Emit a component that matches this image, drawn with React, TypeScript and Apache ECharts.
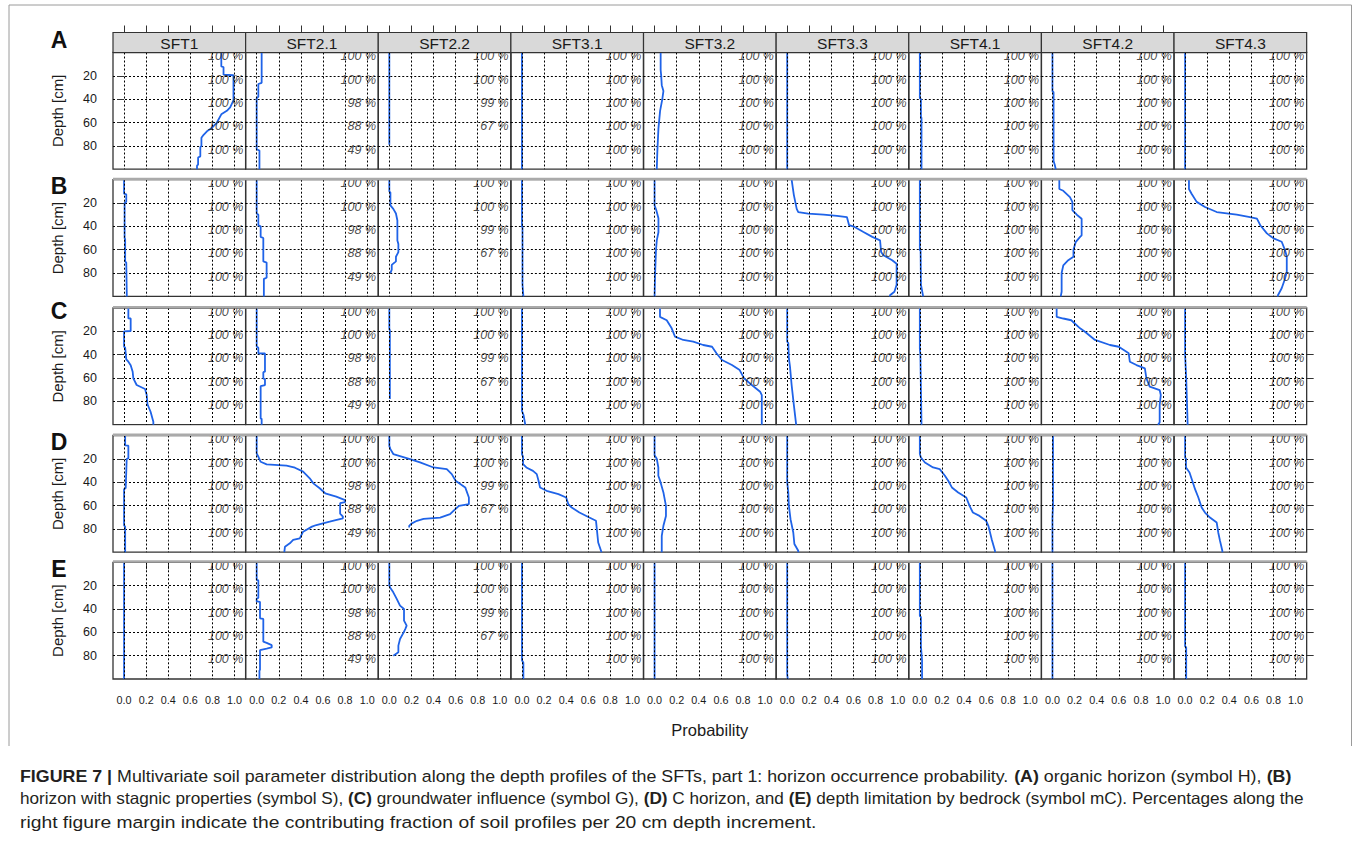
import React, { useEffect, useRef } from 'react';
import * as echarts from 'echarts';

// ---------- data ----------
const panelNames = ['SFT1', 'SFT2.1', 'SFT2.2', 'SFT3.1', 'SFT3.2', 'SFT3.3', 'SFT4.1', 'SFT4.2', 'SFT4.3'];
const rowLetters = ['A', 'B', 'C', 'D', 'E'];
const probTicks = [0, 0.2, 0.4, 0.6, 0.8, 1.0];
const depthTicks = [20, 40, 60, 80];
const shareDepths = [0, 20, 40, 60, 80];
// contributing fraction of soil profiles per 20 cm increment (per SFT column)
const profileShares = [
  [100, 100, 100, 100, 100],
  [100, 100, 98, 88, 49],
  [100, 100, 99, 67],
  [100, 100, 100, 100, 100],
  [100, 100, 100, 100, 100],
  [100, 100, 100, 100, 100],
  [100, 100, 100, 100, 100],
  [100, 100, 100, 100, 100],
  [100, 100, 100, 100, 100],
];

// each profile: [probability, depth cm]
// (A) organic horizon
const rowA = [
  [[0.88, 0], [0.88, 12], [0.9, 12.5], [0.9, 19], [0.99, 19.5], [0.99, 41], [0.96, 47], [0.93, 50], [0.88, 53], [0.84, 60], [0.79, 65], [0.75, 67.5], [0.72, 70.5], [0.7, 73], [0.7, 80], [0.69, 81], [0.69, 89], [0.67, 90], [0.67, 96], [0.66, 97], [0.66, 100]],
  [[0.045, 0], [0.045, 26], [0.015, 27], [0.015, 38], [0.0, 39], [0.0, 83], [0.025, 84], [0.025, 100]],
  [[0.0, 0], [0.0, 79]],
  [[0.0, 0], [0.0, 100]],
  [[0.055, 0], [0.055, 15], [0.06, 20], [0.065, 28], [0.08, 33], [0.07, 40], [0.05, 50], [0.035, 65], [0.025, 85], [0.02, 100]],
  [[0.0, 0], [0.0, 100]],
  [[0.0, 0], [0.0, 39], [0.01, 40], [0.01, 55], [0.015, 56], [0.015, 100]],
  [[0.0, 0], [0.0, 33], [0.01, 34], [0.01, 93], [0.02, 96], [0.03, 100]],
  [[0.0, 0], [0.0, 100]],
];
// (B) stagnic properties
const rowB = [
  [[0.0, 0], [0.0, 12], [0.02, 12.5], [0.02, 19], [0.005, 20], [0.005, 50], [0.01, 51], [0.01, 70], [0.02, 71], [0.025, 100]],
  [[0.0, 0], [0.0, 29], [0.015, 30], [0.015, 39], [0.036, 40], [0.036, 49], [0.06, 50], [0.06, 70], [0.09, 71], [0.09, 84], [0.065, 85], [0.065, 100]],
  [[0.0, 0], [0.0, 10], [0.01, 11], [0.01, 22], [0.036, 25], [0.06, 29], [0.073, 35], [0.073, 52], [0.082, 55], [0.082, 62], [0.06, 66], [0.06, 70], [0.022, 73], [0.022, 77], [0.01, 80]],
  [[0.0, 0], [0.0, 40], [0.005, 41], [0.005, 90], [0.013, 100]],
  [[0.0, 0], [0.0, 22], [0.015, 26], [0.035, 33], [0.035, 45], [0.02, 52], [0.013, 60], [0.005, 80], [0.0, 100]],
  [[0.04, 0], [0.06, 13], [0.086, 25], [0.1, 27.7], [0.19, 29], [0.33, 30], [0.45, 31], [0.54, 32], [0.56, 39], [0.61, 40.5], [0.69, 44.8], [0.77, 49], [0.84, 52], [0.85, 62], [0.87, 64.8], [0.95, 69], [0.99, 72], [0.99, 90], [0.97, 96], [0.93, 99], [0.93, 100]],
  [[0.0, 0], [0.0, 60], [0.007, 61], [0.01, 90], [0.03, 100]],
  [[0.062, 0], [0.062, 8], [0.098, 9.5], [0.158, 15], [0.18, 19], [0.18, 26], [0.22, 30], [0.264, 33.4], [0.264, 47.7], [0.25, 49], [0.21, 53.5], [0.19, 60], [0.19, 66], [0.143, 69], [0.098, 73.4], [0.083, 80], [0.083, 96], [0.075, 100]],
  [[0.035, 0], [0.035, 8], [0.06, 12.3], [0.105, 19], [0.18, 23.4], [0.286, 27.7], [0.467, 30], [0.587, 32], [0.65, 33.4], [0.68, 39], [0.74, 46], [0.8, 50.3], [0.874, 53.2], [0.904, 60.3], [0.92, 66], [0.92, 79], [0.9, 86], [0.874, 93], [0.84, 99], [0.84, 100]],
];
// (C) groundwater influence
const rowC = [
  [[0.039, 0], [0.039, 8.9], [0.06, 9], [0.06, 19.7], [0.0, 20], [0.0, 33], [0.01, 34], [0.02, 44], [0.039, 46], [0.06, 49], [0.078, 54.6], [0.084, 60.3], [0.114, 66], [0.19, 69.4], [0.205, 74.6], [0.212, 82.5], [0.24, 88.9], [0.265, 97.4], [0.265, 100]],
  [[0.0, 0], [0.0, 33], [0.015, 34], [0.015, 38.8], [0.075, 39], [0.075, 54.6], [0.06, 55], [0.06, 60.3], [0.075, 61], [0.075, 66], [0.036, 67], [0.036, 94.6], [0.045, 95], [0.045, 100]],
  [[0.0, 0], [0.0, 18], [0.005, 19], [0.005, 78]],
  [[0.0, 0], [0.0, 88], [0.015, 92], [0.03, 100]],
  [[0.049, 0], [0.049, 7.6], [0.11, 10.5], [0.155, 17.4], [0.185, 24.6], [0.26, 27.4], [0.35, 28.9], [0.44, 31.7], [0.52, 33.2], [0.56, 38.8], [0.61, 44.6], [0.7, 48.9], [0.77, 53.2], [0.81, 60.3], [0.88, 66], [0.955, 71.7], [0.97, 74.6], [0.97, 100]],
  [[0.0, 0], [0.0, 28.9], [0.01, 30], [0.015, 43], [0.025, 50], [0.04, 66], [0.06, 83], [0.08, 99], [0.08, 100]],
  [[0.0, 0], [0.0, 35], [0.005, 40], [0.01, 70], [0.015, 100]],
  [[0.038, 0], [0.038, 7.6], [0.098, 9], [0.17, 10.5], [0.25, 17.4], [0.294, 20.3], [0.385, 27.4], [0.52, 31.7], [0.6, 33.2], [0.645, 36], [0.69, 38.8], [0.7, 46], [0.76, 48.9], [0.836, 51.7], [0.85, 60.3], [0.88, 67.4], [0.97, 70.3], [0.98, 74.6], [0.97, 83], [0.97, 98], [0.955, 100]],
  [[0.0, 0], [0.0, 40], [0.01, 60], [0.02, 90], [0.023, 100]],
];
// (D) C horizon
const rowD = [
  [[0.01, 0], [0.01, 8.5], [0.039, 8.7], [0.039, 19.7], [0.024, 20], [0.02, 31], [0.015, 45], [0.0, 46], [0.0, 77], [0.01, 78], [0.01, 100]],
  [[0.0, 0], [0.0, 15.3], [0.015, 18.2], [0.036, 22.5], [0.09, 24.7], [0.27, 25.9], [0.346, 27.6], [0.42, 31], [0.48, 36.7], [0.512, 41], [0.57, 45.2], [0.62, 49.5], [0.72, 52.4], [0.8, 55.3], [0.8, 57], [0.755, 58], [0.755, 67], [0.78, 69.6], [0.78, 71], [0.66, 73.9], [0.54, 76.7], [0.5, 78.1], [0.42, 82.4], [0.39, 88.1], [0.33, 89.5], [0.3, 92.4], [0.256, 95.3], [0.25, 100]],
  [[0.0, 0], [0.0, 8.9], [0.01, 11.7], [0.036, 15.9], [0.187, 20.2], [0.278, 23.1], [0.4, 27.4], [0.52, 28.8], [0.565, 33.1], [0.6, 38.8], [0.687, 44.5], [0.72, 53.1], [0.72, 58.9], [0.63, 60.3], [0.58, 64.6], [0.55, 67.4], [0.46, 70.3], [0.31, 71.5], [0.25, 73.1], [0.2, 75.5], [0.18, 77.4], [0.18, 78.8]],
  [[0.0, 0], [0.0, 15.9], [0.01, 18], [0.01, 24.5], [0.04, 27.4], [0.1, 30.3], [0.134, 33.1], [0.15, 38.8], [0.164, 44.5], [0.223, 47.4], [0.33, 50.3], [0.4, 53.1], [0.42, 58.9], [0.45, 61.7], [0.52, 66], [0.61, 70.3], [0.67, 73.1], [0.69, 91.7], [0.72, 100]],
  [[0.0, 0], [0.0, 17], [0.02, 20], [0.034, 27.4], [0.034, 34.5], [0.05, 38.8], [0.08, 48.8], [0.103, 60.3], [0.103, 68.9], [0.08, 77.4], [0.065, 86], [0.065, 100]],
  [[0.0, 0], [0.0, 40], [0.01, 48.8], [0.015, 60], [0.03, 71.7], [0.055, 83.1], [0.065, 93], [0.1, 98.8], [0.1, 100]],
  [[0.0, 0], [0.0, 15.9], [0.01, 18.8], [0.046, 23.1], [0.12, 27.4], [0.18, 28.8], [0.227, 34.5], [0.257, 38.8], [0.29, 44.5], [0.347, 48.8], [0.42, 53.1], [0.45, 60.3], [0.48, 66], [0.54, 68.9], [0.6, 73.1], [0.62, 77.4], [0.65, 88.8], [0.68, 98.8], [0.68, 100]],
  [[0.005, 0], [0.005, 60], [0.0, 70], [0.0, 100]],
  [[0.0, 0], [0.0, 18.8], [0.008, 20], [0.008, 27.4], [0.04, 31.7], [0.065, 38.8], [0.09, 46], [0.12, 53.1], [0.15, 61.7], [0.18, 66], [0.225, 70.3], [0.286, 74.6], [0.3, 83.1], [0.316, 90.3], [0.337, 98.8], [0.337, 100]],
];
// (E) depth limitation by bedrock
const rowE = [
  [[0.0, 0], [0.0, 100]],
  [[0.0, 0], [0.0, 15], [0.015, 15.5], [0.015, 30.5], [0.0, 31], [0.0, 33.5], [0.03, 34], [0.03, 48], [0.06, 48.5], [0.06, 68], [0.09, 69], [0.136, 71], [0.136, 73], [0.09, 74], [0.03, 75.2], [0.03, 92], [0.025, 93], [0.025, 100]],
  [[0.0, 0], [0.0, 20], [0.01, 22], [0.036, 25.7], [0.067, 31.4], [0.097, 37.1], [0.133, 40], [0.133, 50], [0.157, 54.3], [0.145, 57], [0.13, 60], [0.097, 65.7], [0.082, 71.4], [0.082, 77.1], [0.036, 80]],
  [[0.0, 0], [0.0, 84], [0.013, 86], [0.013, 100]],
  [[0.0, 0], [0.0, 100]],
  [[0.0, 0], [0.0, 96], [0.005, 100]],
  [[0.0, 0], [0.0, 46], [0.01, 47], [0.01, 72], [0.02, 84], [0.02, 100]],
  [[0.0, 0], [0.0, 100]],
  [[0.0, 0], [0.0, 72], [0.01, 73], [0.01, 100]],
];
const rows = [rowA, rowB, rowC, rowD, rowE];

const captionLines = [
  '{b|FIGURE 7 |} Multivariate soil parameter distribution along the depth profiles of the SFTs, part 1: horizon occurrence probability. {b|(A)} organic horizon (symbol H), {b|(B)}',
  'horizon with stagnic properties (symbol S), {b|(C)} groundwater influence (symbol G), {b|(D)} C horizon, and {b|(E)} depth limitation by bedrock (symbol mC). Percentages along the',
  'right figure margin indicate the contributing fraction of soil profiles per 20 cm depth increment.',
];

// ---------- layout ----------
const FONT = "'Liberation Sans', Arial, sans-serif";
const PANEL_LEFT = 113;
const PW = 132.63;
const PH = 116.7;
const ROW_TOP = [52.5, 179.7, 308.0, 435.5, 562.3];
const LINE_COLOR = '#1f63e8';
const INK = '#1a1a1a';
const CAPTION_SIZE = 16.5;
const CAPTION_SCALE = [1.08, 1.04, 1.17];

function buildOption() {
  const grids: any[] = [];
  const xAxes: any[] = [];
  const yAxes: any[] = [];
  const series: any[] = [];
  const graphics: any[] = [];

  rows.forEach((rowData, r) => {
    rowData.forEach((pts, c) => {
      const k = grids.length;
      const left = PANEL_LEFT + PW * c;
      const top = ROW_TOP[r];
      grids.push({ left, top, width: PW, height: PH, show: true, borderColor: '#333', borderWidth: 1.3, backgroundColor: 'transparent' });
      const xi = xAxes.length;
      xAxes.push({
        gridIndex: k, type: 'value', min: -0.1, max: 1.1, position: 'bottom',
        axisLine: { show: false }, splitLine: { show: false },
        axisTick: { show: r === 4, inside: false, length: 7, customValues: probTicks, lineStyle: { color: '#333' } },
        axisLabel: { show: r === 4, customValues: probTicks, formatter: (v: number) => v.toFixed(1), fontSize: 10.8, margin: 15, color: INK, fontFamily: FONT },
      });
      if (r === 0) {
        xAxes.push({
          gridIndex: k, type: 'value', min: -0.1, max: 1.1, position: 'top', offset: 20,
          axisLine: { show: false }, splitLine: { show: false },
          axisTick: { show: true, inside: false, length: 7, customValues: probTicks, lineStyle: { color: '#333' } },
          axisLabel: { show: false },
        });
      }
      const yi = yAxes.length;
      yAxes.push({
        gridIndex: k, type: 'value', inverse: true, min: 0, max: 100, interval: 20, position: 'left',
        axisLine: { show: false },
        splitLine: { show: true, lineStyle: { type: [2, 2], color: '#000', width: 1 } },
        axisTick: { show: c === 0, inside: false, length: 7, customValues: depthTicks, lineStyle: { color: '#333' } },
        axisLabel: { show: c === 0, customValues: depthTicks, fontSize: 12.5, margin: 16, color: INK, fontFamily: FONT },
        name: c === 0 ? 'Depth [cm]' : '', nameLocation: 'middle', nameGap: 48,
        nameTextStyle: { fontSize: 15, color: INK, fontFamily: FONT },
      });
      if (c === 8) {
        yAxes.push({
          gridIndex: k, type: 'value', inverse: true, min: 0, max: 100, position: 'right',
          axisLine: { show: false }, splitLine: { show: false },
          axisTick: { show: true, inside: false, length: 7, customValues: depthTicks, lineStyle: { color: '#333' } },
          axisLabel: { show: false },
        });
      }
      series.push({
        type: 'line', xAxisIndex: xi, yAxisIndex: yi, data: pts, symbol: 'none', z: 3,
        lineStyle: { color: LINE_COLOR, width: 1.8 }, silent: true,
        markLine: {
          silent: true, symbol: ['none', 'none'], label: { show: false },
          lineStyle: { type: [2, 2], color: '#000', width: 1 },
          emphasis: { disabled: true },
          data: probTicks.map((v) => ({ xAxis: v })),
        },
      });
      series.push({
        type: 'scatter', xAxisIndex: xi, yAxisIndex: yi, symbolSize: 0, silent: true, z: 4,
        data: profileShares[c].map((s, i) => [1.08, shareDepths[i] + 3.2, s]),
        label: {
          show: true, position: 'left', distance: 0,
          formatter: (p: any) => p.value[2] + ' %',
          fontStyle: 'italic', fontSize: 12.5, color: INK, fontFamily: FONT,
        },
      });
    });
  });

  const fullW = PW * 9;
  // frame
  graphics.push({ type: 'polyline', z: 100, shape: { points: [[9, 746], [9, 5], [1351.5, 5], [1351.5, 746]] }, style: { stroke: '#9a9a9a', lineWidth: 1, fill: 'none' } });
  // strips on top row
  panelNames.forEach((name, c) => {
    const x = PANEL_LEFT + PW * c;
    graphics.push({ type: 'rect', z: 100, shape: { x, y: 32.5, width: PW, height: 20 }, style: { fill: '#d9d9d9', stroke: '#333', lineWidth: 1.2 } });
    graphics.push({ type: 'text', z: 101, style: { text: name, x: x + PW / 2, y: 43, align: 'center', verticalAlign: 'middle', fontSize: 15.5, fontFamily: FONT, fill: INK } });
  });
  // gaps and thin strips for other rows
  for (let r = 1; r < 5; r++) {
    const prevBottom = ROW_TOP[r - 1] + PH;
    graphics.push({ type: 'rect', z: 100, shape: { x: PANEL_LEFT - 1, y: prevBottom + 1, width: fullW + 2, height: ROW_TOP[r] - prevBottom - 3 }, style: { fill: '#fff' } });
    graphics.push({ type: 'rect', z: 100, shape: { x: PANEL_LEFT, y: ROW_TOP[r] - 2, width: fullW, height: 2.5 }, style: { fill: '#aaaaaa' } });
  }
  // row letters
  const letterY = [40, 186, 311, 442, 569];
  rowLetters.forEach((L, r) => {
    graphics.push({ type: 'text', z: 101, style: { text: L, x: 59, y: letterY[r], align: 'center', verticalAlign: 'middle', fontSize: 23, fontWeight: 'bold', fontFamily: FONT, fill: '#111' } });
  });
  graphics.push({ type: 'text', z: 101, style: { text: 'Probability', x: PANEL_LEFT + fullW / 2, y: 730, align: 'center', verticalAlign: 'middle', fontSize: 16.5, fontFamily: FONT, fill: INK } });
  captionLines.forEach((t, i) => {
    graphics.push({
      type: 'text', z: 101, x: 20, y: 776 + i * 23, scaleX: CAPTION_SCALE[i],
      style: {
        text: t, x: 0, y: 0, align: 'left', verticalAlign: 'middle',
        fontSize: CAPTION_SIZE, fontFamily: FONT, fill: '#231f20',
        rich: { b: { fontWeight: 'bold', fontSize: CAPTION_SIZE, fontFamily: FONT, fill: '#231f20' } },
      },
    });
  });

  return {
    animation: false,
    backgroundColor: '#fff',
    grid: grids,
    xAxis: xAxes,
    yAxis: yAxes,
    series,
    graphic: { elements: graphics },
  };
}

export default function App() {
  const ref = useRef<HTMLDivElement>(null);
  useEffect(() => {
    if (!ref.current) return;
    const chart = echarts.init(ref.current, undefined, { renderer: 'svg' });
    chart.setOption(buildOption() as any);
    return () => chart.dispose();
  }, []);
  return <div ref={ref} style={{ position: 'absolute', left: 0, top: 0, width: 1355, height: 851 }} />;
}
